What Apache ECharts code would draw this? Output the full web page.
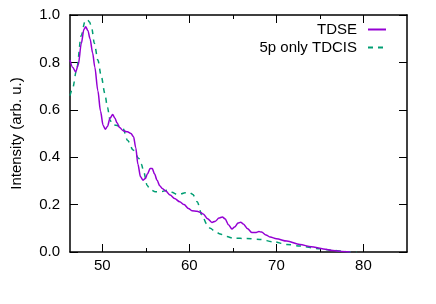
<!DOCTYPE html>
<html>
<head>
<meta charset="utf-8">
<script src="https://cdn.jsdelivr.net/npm/echarts@6/dist/echarts.min.js"></script>
<style>html,body{margin:0;padding:0;background:#fff}#c{width:436px;height:304px}</style>
</head>
<body>
<div id="c"></div>
<script>
var seriesNames = ['TDSE', '5p only TDCIS'];
var tdseX = [46.3, 46.6, 46.95, 47.25, 47.6, 47.9, 48.1, 48.35, 48.6, 48.9, 49.15, 49.5, 49.8, 50.1, 50.35, 50.6, 50.9, 51.2, 51.45, 51.7, 52.0, 52.4, 52.9, 53.3, 53.6, 53.85, 54.1, 54.4, 54.7, 54.95, 55.2, 55.5, 55.75, 56.0, 56.3, 56.6, 56.9, 57.3, 57.8, 58.3, 58.9, 59.4, 59.9, 60.3, 60.9, 61.3, 61.6, 62.1, 62.6, 63.0, 63.4, 63.8, 64.1, 64.5, 64.9, 65.2, 65.6, 65.9, 66.2, 66.7, 67.2, 67.6, 68.0, 68.3, 68.8, 69.3, 70.0, 71.2, 72.7, 74.0, 75.4, 76.5, 77.5, 78.5];
var tdseY = [0.81, 0.78, 0.76, 0.79, 0.88, 0.94, 0.95, 0.935, 0.90, 0.84, 0.78, 0.68, 0.595, 0.535, 0.518, 0.53, 0.565, 0.58, 0.565, 0.545, 0.525, 0.512, 0.507, 0.50, 0.486, 0.44, 0.37, 0.317, 0.303, 0.31, 0.33, 0.352, 0.352, 0.33, 0.303, 0.28, 0.268, 0.257, 0.24, 0.226, 0.212, 0.2, 0.184, 0.174, 0.172, 0.167, 0.16, 0.14, 0.125, 0.13, 0.143, 0.148, 0.14, 0.115, 0.097, 0.105, 0.122, 0.126, 0.118, 0.098, 0.082, 0.082, 0.086, 0.084, 0.072, 0.063, 0.056, 0.046, 0.032, 0.022, 0.013, 0.006, 0.002, 0.0];
var tdcisX = [46.3, 46.6, 47.05, 47.6, 48.0, 48.3, 48.55, 48.8, 49.1, 49.5, 49.9, 50.3, 50.6, 50.9, 51.2, 51.6, 52.0, 52.4, 52.9, 53.55, 54.2, 54.5, 54.77, 55.15, 55.5, 56.1, 56.8, 57.45, 58.0, 58.6, 59.1, 59.5, 60.0, 60.4, 60.9, 61.45, 62.0, 62.4, 63.0, 63.55, 64.3, 65.07, 66.6, 68.1, 69.7, 71.2, 72.7, 74.8, 76.5, 78.0, 79.2];
var tdcisY = [0.66, 0.69, 0.767, 0.914, 0.97, 0.98, 0.97, 0.943, 0.88, 0.81, 0.74, 0.669, 0.61, 0.556, 0.537, 0.535, 0.53, 0.52, 0.472, 0.43, 0.395, 0.37, 0.338, 0.282, 0.264, 0.254, 0.255, 0.261, 0.252, 0.243, 0.246, 0.25, 0.251, 0.243, 0.212, 0.156, 0.118, 0.1, 0.086, 0.076, 0.065, 0.058, 0.057, 0.053, 0.043, 0.032, 0.025, 0.014, 0.007, 0.002, 0.0];
var xMajorTicks = [50, 60, 70, 80];
var xMinorTicks = [55, 65, 75];
var xRange = [46.3, 85];
var yRange = [0, 1];
var yStep = 0.2;
var yAxisTitle = 'Intensity (arb. u.)';

function pairs(xs, ys) { return xs.map(function (x, i) { return [x, ys[i]]; }); }

var FONT = 'Liberation Sans';
var lineCol = '#000';
function xAx(pos, ticks, len, showLabel, showLine) {
  return {
    type: 'value', position: pos, min: xRange[0], max: xRange[1],
    axisLine: { show: showLine, onZero: false, lineStyle: { color: lineCol, width: 1.5 } },
    axisTick: { show: true, inside: true, length: len, customValues: ticks, lineStyle: { color: lineCol, width: 1 } },
    axisLabel: { show: showLabel, customValues: ticks, color: '#000', fontFamily: FONT, fontSize: 15, margin: 6 },
    splitLine: { show: false }
  };
}
function yAx(pos, showLabel) {
  var a = {
    type: 'value', position: pos, min: yRange[0], max: yRange[1], interval: yStep,
    axisLine: { show: true, onZero: false, lineStyle: { color: lineCol, width: 1.5 } },
    axisTick: { show: true, inside: true, length: 8, lineStyle: { color: lineCol, width: 1 } },
    axisLabel: { show: showLabel, color: '#000', fontFamily: FONT, fontSize: 15, margin: 10,
      formatter: function (v) { return v.toFixed(1); } },
    splitLine: { show: false }
  };
  if (showLabel) {
    a.name = yAxisTitle; a.nameLocation = 'middle'; a.nameGap = 46;
    a.nameTextStyle = { color: '#000', fontFamily: FONT, fontSize: 15 };
  }
  return a;
}

var chart = echarts.init(document.getElementById('c'), null, { renderer: 'canvas' });
chart.setOption({
  animation: false,
  backgroundColor: '#fff',
  grid: { left: 70, right: 29, top: 15, bottom: 52 },
  xAxis: [
    xAx('bottom', xMajorTicks, 8, true, true),
    xAx('top', xMajorTicks, 8, false, true),
    xAx('bottom', xMinorTicks, 4, false, false),
    xAx('top', xMinorTicks, 4, false, false)
  ],
  yAxis: [yAx('left', true), yAx('right', false)],
  legend: {
    orient: 'vertical', right: 49, top: 22, align: 'right', padding: 0,
    itemWidth: 18, itemHeight: 8, itemGap: 3,
    itemStyle: { opacity: 0 },
    textStyle: { color: '#000', fontFamily: FONT, fontSize: 15, padding: [0, 6, 0, 0] },
    data: seriesNames
  },
  series: [
    { name: seriesNames[0], type: 'line', xAxisIndex: 0, yAxisIndex: 0, data: pairs(tdseX, tdseY),
      showSymbol: false, symbol: 'none', smooth: 0.3, smoothMonotone: 'x',
      lineStyle: { color: '#9400d3', width: 1.5 }, itemStyle: { color: '#9400d3' }, z: 3 },
    { name: seriesNames[1], type: 'line', xAxisIndex: 0, yAxisIndex: 0, data: pairs(tdcisX, tdcisY),
      showSymbol: false, symbol: 'none', smooth: 0.3, smoothMonotone: 'x',
      lineStyle: { color: '#009e73', width: 1.5, type: [5, 5] }, itemStyle: { color: '#009e73' }, z: 2 }
  ]
});
</script>
</body>
</html>
